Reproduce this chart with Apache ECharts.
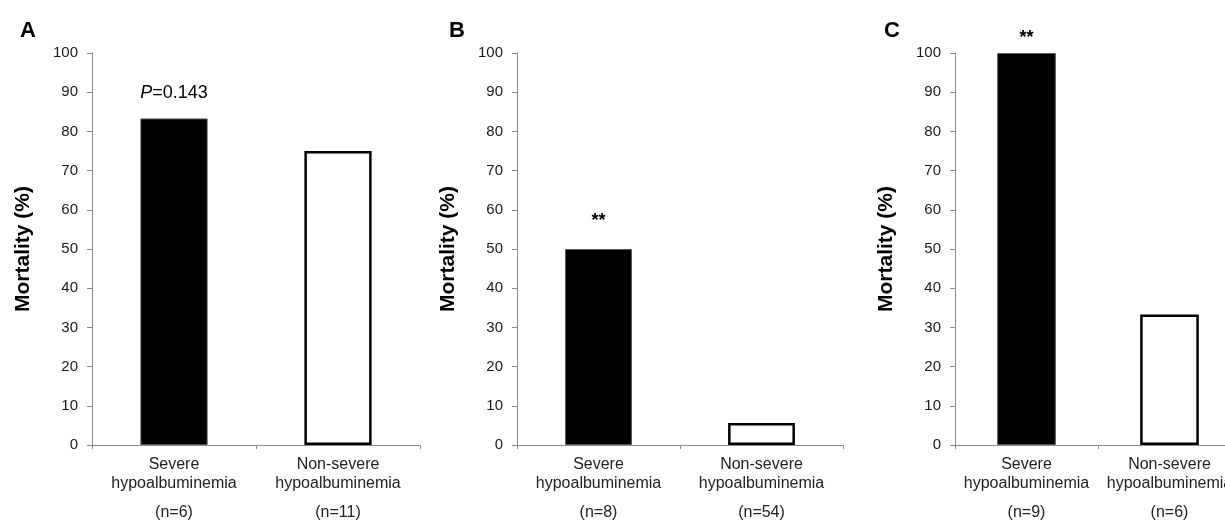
<!DOCTYPE html>
<html>
<head>
<meta charset="utf-8">
<script src="https://cdn.jsdelivr.net/npm/echarts@6/dist/echarts.min.js"></script>
<style>
html,body{margin:0;padding:0;background:#fff;}
#chart{width:1225px;height:521px;}
</style>
</head>
<body>
<div id="chart"></div>
<script>
// ---- data ----
var panelLetters = ['A', 'B', 'C'];
var categories = ['Severe\nhypoalbuminemia', 'Non-severe\nhypoalbuminemia'];
var nA = [6, 11];
var nB = [8, 54];
var nC = [9, 6];
var mortalityA = [83.3, 75.0];
var mortalityB = [50.0, 5.6];
var mortalityC = [100.0, 33.3];
var annotA = ['P=0.143', ''];
var annotB = ['**', ''];
var annotC = ['**', ''];
var yMin = 0, yMax = 100, yInterval = 10;
var yAxisTitle = 'Mortality (%)';

// ---- layout / style ----
var FONT = 'Liberation Sans, Arial, sans-serif';
var grids = [
  {left: 92, top: 53, width: 328, height: 392},
  {left: 517, top: 53, width: 326, height: 392},
  {left: 955, top: 53, width: 286, height: 392}
];
var letterPos = [[15, 15], [444, 15], [879, 15]];
var annotDistance = [16, 19, 6];
var panels = [
  {n: nA, vals: mortalityA, annot: annotA},
  {n: nB, vals: mortalityB, annot: annotB},
  {n: nC, vals: mortalityC, annot: annotC}
];
var barStyles = [
  {color: '#000000', borderColor: '#555555', borderWidth: 1},
  {color: '#ffffff', borderColor: '#000000', borderWidth: 2.5}
];

var option = {
  animation: false,
  backgroundColor: '#ffffff',
  title: panelLetters.map(function (t, i) {
    return {text: t, left: letterPos[i][0], top: letterPos[i][1],
      textStyle: {fontFamily: FONT, fontWeight: 'bold', fontSize: 22, color: '#000'}};
  }),
  grid: grids.map(function (g) {
    return Object.assign({containLabel: false, outerBoundsMode: 'none'}, g);
  }),
  xAxis: panels.map(function (p, i) {
    return {
      type: 'category', gridIndex: i, data: categories,
      boundaryGap: true,
      axisLine: {lineStyle: {color: '#8c8c8c', width: 1}},
      axisTick: {show: true, alignWithLabel: false, length: 4, lineStyle: {color: '#8c8c8c'}},
      axisLabel: {
        interval: 0, margin: 10, color: '#222',
        fontFamily: FONT, fontSize: 16,
        formatter: function (val, idx) {
          var parts = val.split('\n');
          return parts.map(function (s) { return '{a|' + s + '}'; }).join('\n') +
            '\n{b|(n=' + p.n[idx] + ')}';
        },
        rich: {
          a: {fontFamily: FONT, fontSize: 16, lineHeight: 19, color: '#222'},
          b: {fontFamily: FONT, fontSize: 16, lineHeight: 39, color: '#222'}
        }
      }
    };
  }),
  yAxis: panels.map(function (p, i) {
    return {
      type: 'value', gridIndex: i, min: yMin, max: yMax, interval: yInterval,
      name: yAxisTitle, nameLocation: 'middle', nameRotate: 90, nameGap: 58,
      nameTextStyle: {fontFamily: FONT, fontWeight: 'bold', fontSize: 21, color: '#000'},
      axisLine: {show: true, lineStyle: {color: '#8c8c8c', width: 1}},
      axisTick: {show: true, length: 5, lineStyle: {color: '#8c8c8c'}},
      splitLine: {show: false},
      axisLabel: {margin: 14, color: '#1a1a1a', fontFamily: FONT, fontSize: 15}
    };
  }),
  series: panels.map(function (p, i) {
    return {
      type: 'bar', xAxisIndex: i, yAxisIndex: i, barWidth: '41%',
      data: p.vals.map(function (v, j) {
        return {
          value: v,
          itemStyle: barStyles[j],
          label: {
            show: p.annot[j] !== '', position: 'top', distance: annotDistance[i],
            formatter: function () {
              var t = p.annot[j];
              if (t.indexOf('P=') === 0) return '{i|P}{n|' + t.slice(1) + '}';
              return '{s|' + t + '}';
            },
            rich: {
              i: {fontFamily: FONT, fontStyle: 'italic', fontSize: 18, color: '#000'},
              n: {fontFamily: FONT, fontSize: 18, color: '#000'},
              s: {fontFamily: FONT, fontWeight: 'bold', fontSize: 18, color: '#000'}
            }
          }
        };
      })
    };
  })
};

var chart = echarts.init(document.getElementById('chart'), null, {renderer: 'canvas'});
chart.setOption(option);
</script>
</body>
</html>
